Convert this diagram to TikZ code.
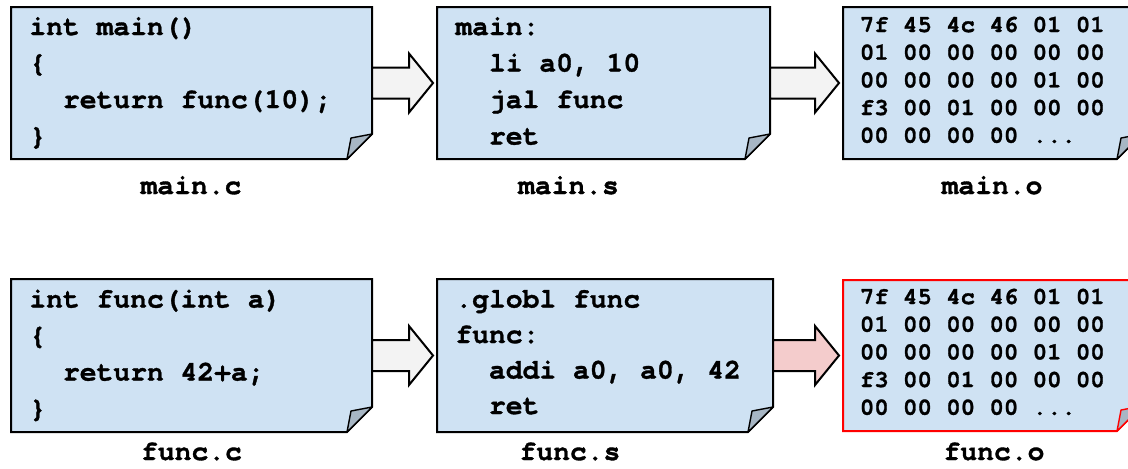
\documentclass[tikz,border=0pt]{standalone}
\usepackage{fontspec}
\usetikzlibrary{calc,fit}
\newfontfamily\monof{texgyrecursor}[Extension=.otf, UprightFont=*-regular, BoldFont=*-bold, BoldFeatures={FakeBold=1.2}]
\newcommand{\codefont}{\monof\bfseries\fontsize{14pt}{16pt}\selectfont}
\newcommand{\hexfont}{\monof\bfseries\fontsize{12pt}{14pt}\selectfont}
\definecolor{docblue}{HTML}{CFE2F3}
\definecolor{foldgray}{RGB}{167,182,196}
\definecolor{arrowgray}{HTML}{F3F3F3}
\definecolor{pinkfill}{HTML}{F4CCCC}
\definecolor{redline}{HTML}{FF0000}
\tikzset{
  doc/.style={draw=black, fill=docblue, line width=1pt, line join=miter},
  fold/.style={draw=black, fill=foldgray, line width=0.7pt, line join=round},
  bigarrow/.style={draw=black, fill=arrowgray, line width=1pt, line join=miter},
  code/.style={font=\codefont, anchor=base west, inner sep=0pt},
  hex/.style={font=\hexfont, anchor=base west, inner sep=0pt},
  lbl/.style={font=\codefont, anchor=base, inner sep=0pt},
}
% name, left, top, right, bottom, border colour
\newcommand{\docbox}[6]{%
  \node[inner sep=0pt, outer sep=0pt, fit={(#2,#3)(#4,#5)}] (#1) {};
  \draw[doc, draw=#6] (#1.north west) -- (#1.north east)
     -- ([shift={(0,-25)}]#1.south east) -- ([shift={(-25,0)}]#1.south east)
     -- (#1.south west) -- cycle;
  \draw[fold, draw=#6] ([shift={(-25,0)}]#1.south east)
     .. controls ([shift={(-23,-10)}]#1.south east) .. ([shift={(-21,-21)}]#1.south east)
     -- ([shift={(0,-25)}]#1.south east) -- cycle;
}
% from, to, style
\newcommand{\blockarrow}[3]{%
  \draw[bigarrow, #3] let \p1=(#1.east), \p2=(#2.west) in
     (\x1,\y1+7.75pt) -- (\x2-14pt,\y1+7.75pt) -- (\x2-14pt,\y1+14.75pt)
     -- (\x2-2pt,\y1) -- (\x2-14pt,\y1-14.75pt) -- (\x2-14pt,\y1-7.75pt)
     -- (\x1,\y1-7.75pt) -- cycle;
}
\begin{document}
\begin{tikzpicture}[x=0.5pt, y=-0.5pt]
\clip (0,0) rectangle (1128,468);
\fill[white] (0,0) rectangle (1128,468);

% top row
\docbox{mainc}{11}{7}{372}{159}{black}
\docbox{mains}{437}{7}{770}{159}{black}
\docbox{maino}{843}{7}{1142}{159}{black}
\blockarrow{mainc}{mains}{}
\blockarrow{mains}{maino}{}

\node[code] (mc1) at (29,35) {int main()};
\node[code] (mc2) at (29,71.5) {\{};
\node[code] (mc3) at (29,108) {\ \ return func(10);};
\node[code] (mc4) at (29,144.5) {\}};

\node[code] (ms1) at (455,35) {main:};
\node[code] (ms2) at (455,71.5) {\ \ li a0, 10};
\node[code] (ms3) at (455,108) {\ \ jal func};
\node[code] (ms4) at (455,144.5) {\ \ ret};

\node[hex] (mo1) at (859.5,32) {7f 45 4c 46 01 01};
\node[hex] (mo2) at (859.5,59.7) {01 00 00 00 00 00};
\node[hex] (mo3) at (859.5,87.4) {00 00 00 00 01 00};
\node[hex] (mo4) at (859.5,115) {f3 00 01 00 00 00};
\node[hex] (mo5) at (859.5,142.7) {00 00 00 00 ...};

\node[lbl] (lmc) at (191,194) {main.c};
\node[lbl] (lms) at (568.5,194) {main.s};
\node[lbl] (lmo) at (992,194) {main.o};

% bottom row
\docbox{funcc}{11}{279}{372}{432}{black}
\docbox{funcs}{437}{279}{773}{432}{black}
\docbox{funco}{843}{280}{1142}{431}{redline}
\blockarrow{funcc}{funcs}{}
\blockarrow{funcs}{funco}{fill=pinkfill}

\node[code] (fc1) at (29,307.5) {int func(int a)};
\node[code] (fc2) at (29,344) {\{};
\node[code] (fc3) at (29,380.5) {\ \ return 42+a;};
\node[code] (fc4) at (29,417) {\}};

\node[code] (fs1) at (455,307.5) {.globl func};
\node[code] (fs2) at (455,343) {func:};
\node[code] (fs3) at (455,378.5) {\ \ addi a0, a0, 42};
\node[code] (fs4) at (455,414) {\ \ ret};

\node[hex] (fo1) at (859.5,304) {7f 45 4c 46 01 01};
\node[hex] (fo2) at (859.5,331.7) {01 00 00 00 00 00};
\node[hex] (fo3) at (859.5,359.4) {00 00 00 00 01 00};
\node[hex] (fo4) at (859.5,387) {f3 00 01 00 00 00};
\node[hex] (fo5) at (859.5,414.7) {00 00 00 00 ...};

\node[lbl] (lfc) at (191.5,460) {func.c};
\node[lbl] (lfs) at (570,460) {func.s};
\node[lbl] (lfo) at (994,460) {func.o};
\end{tikzpicture}
\end{document}
